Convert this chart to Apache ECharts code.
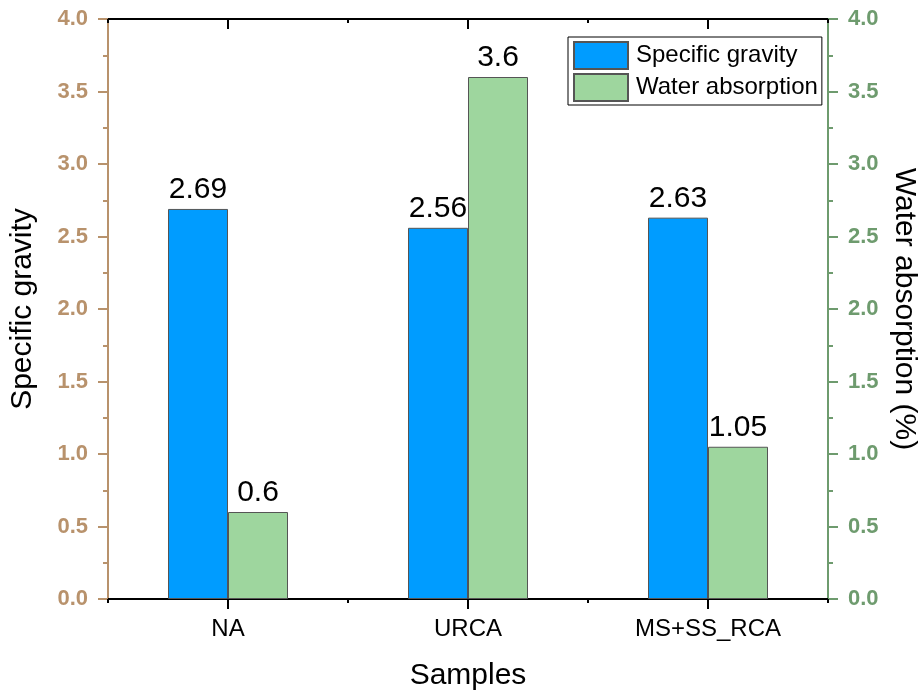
<!DOCTYPE html>
<html>
<head>
<meta charset="utf-8">
<script src="https://cdn.jsdelivr.net/npm/echarts@6/dist/echarts.min.js"></script>
<style>
  html, body { margin: 0; padding: 0; background: #fff; }
  #chart { width: 923px; height: 695px; }
</style>
</head>
<body>
<div id="chart"></div>
<script>
// Sample categories and measured properties
const categories = ['NA', 'URCA', 'MS+SS_RCA'];
const specificGravity = [2.69, 2.56, 2.63];
const waterAbsorption = [0.6, 3.6, 1.05];
const yTicks = { min: 0, max: 4, interval: 0.5 };

const FONT = '"Liberation Sans", Arial, sans-serif';
const TAN = '#b8926c';
const GREEN = '#6e9b6e';

const chart = echarts.init(document.getElementById('chart'), null, { renderer: 'canvas' });

function catAxis(pos, opts) {
  return Object.assign({
    type: 'category',
    data: categories,
    position: pos,
    boundaryGap: true,
    axisLine: { show: true, lineStyle: { color: '#000', width: 2 } },
    splitLine: { show: false },
    axisLabel: { show: false }
  }, opts);
}

function valueAxis(pos, title, color, gap, rotate) {
  return {
    type: 'value',
    position: pos,
    min: yTicks.min, max: yTicks.max, interval: yTicks.interval,
    name: title,
    nameLocation: 'middle',
    nameGap: gap,
    nameRotate: rotate,
    nameTextStyle: { fontFamily: FONT, fontSize: 30, color: '#000' },
    axisLine: { show: true, lineStyle: { color: color, width: 2 } },
    axisTick: { show: true, length: 10, lineStyle: { color: color, width: 2 } },
    minorTick: { show: true, splitNumber: 2, length: 5, lineStyle: { color: color, width: 2 } },
    splitLine: { show: false },
    axisLabel: {
      fontFamily: FONT, fontSize: 22, fontWeight: 'bold', color: color, margin: 20,
      formatter: v => v.toFixed(1)
    }
  };
}

function barLabel() {
  return {
    show: true, position: 'top', distance: 4,
    fontFamily: FONT, fontSize: 30, color: '#000',
    formatter: p => String(p.value)
  };
}

const option = {
  backgroundColor: '#fff',
  animation: false,
  textStyle: { fontFamily: FONT },
  grid: { left: 108, right: 95, top: 19, bottom: 96, containLabel: false, outerBoundsMode: 'none' },
  legend: {
    orient: 'vertical',
    left: 568,
    top: 37,
    icon: 'rect',
    itemWidth: 54,
    itemHeight: 27,
    itemGap: 3,
    padding: [4, 4, 3, 5],
    borderColor: '#000',
    borderWidth: 1,
    textStyle: { fontFamily: FONT, fontSize: 24, color: '#000', padding: [0, 0, 0, 3] },
    data: ['Specific gravity', 'Water absorption']
  },
  xAxis: [
    catAxis('bottom', {
      axisTick: { show: true, alignWithLabel: true, length: 10, lineStyle: { color: '#000', width: 2 } },
      axisLabel: { show: true, fontFamily: FONT, fontSize: 24, color: '#000', margin: 18 },
      name: 'Samples',
      nameLocation: 'middle',
      nameGap: 62,
      nameTextStyle: { fontFamily: FONT, fontSize: 30, color: '#000' }
    }),
    catAxis('bottom', {
      axisTick: { show: true, alignWithLabel: false, length: 4, lineStyle: { color: '#000', width: 2 } }
    }),
    catAxis('top', {
      axisTick: { show: true, inside: true, alignWithLabel: true, length: 10, lineStyle: { color: '#000', width: 2 } }
    }),
    catAxis('top', {
      axisTick: { show: true, inside: true, alignWithLabel: false, length: 4, lineStyle: { color: '#000', width: 2 } }
    })
  ],
  yAxis: [
    valueAxis('left', 'Specific gravity', TAN, 70, 90),
    valueAxis('right', 'Water absorption (%)', GREEN, 58, -90)
  ],
  series: [
    {
      name: 'Specific gravity',
      type: 'bar',
      xAxisIndex: 0,
      yAxisIndex: 0,
      data: specificGravity,
      barWidth: 60,
      barGap: '0%',
      itemStyle: { color: '#009cff', borderColor: '#555', borderWidth: 1 },
      label: barLabel()
    },
    {
      name: 'Water absorption',
      type: 'bar',
      xAxisIndex: 0,
      yAxisIndex: 1,
      data: waterAbsorption,
      barWidth: 60,
      barGap: '0%',
      itemStyle: { color: '#9ed69e', borderColor: '#555', borderWidth: 1 },
      label: barLabel()
    }
  ]
};

chart.setOption(option);
</script>
</body>
</html>
